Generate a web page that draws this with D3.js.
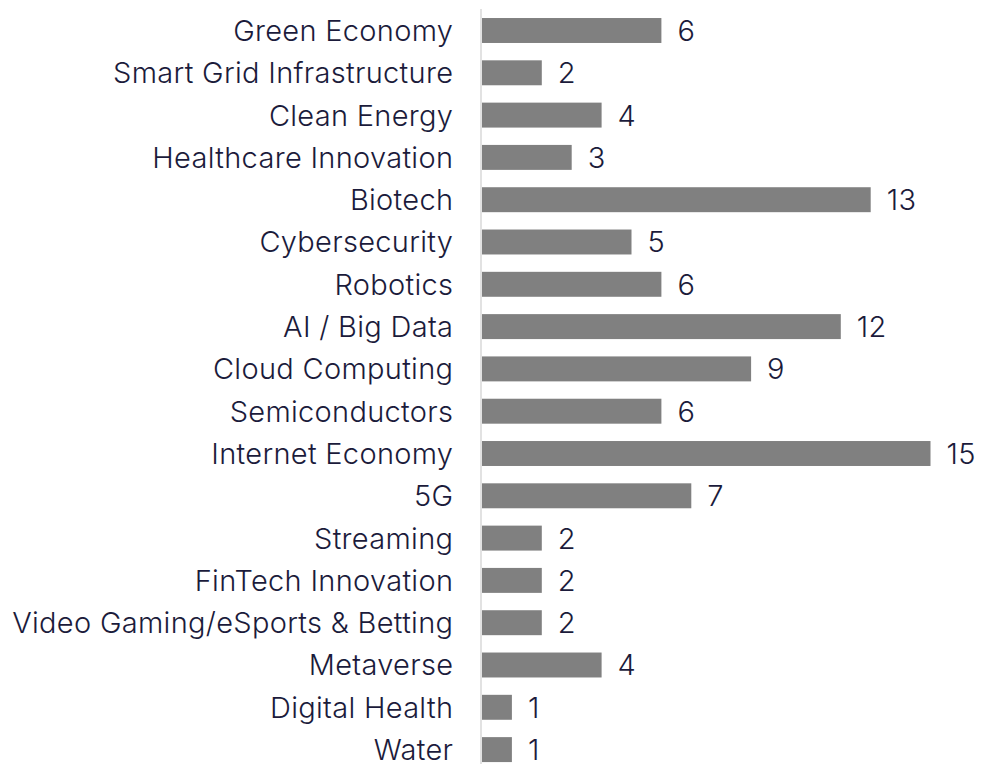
<!DOCTYPE html>
<html><head><meta charset="utf-8">
<script src="https://cdn.jsdelivr.net/npm/d3@7"></script>
<style>body{margin:0;background:#fff;}svg{display:block;}</style>
</head><body>
<svg id="chart" width="982" height="764"></svg>
<script>
const categories = ["Green Economy","Smart Grid Infrastructure","Clean Energy","Healthcare Innovation","Biotech","Cybersecurity","Robotics","AI / Big Data","Cloud Computing","Semiconductors","Internet Economy","5G","Streaming","FinTech Innovation","Video Gaming/eSports & Betting","Metaverse","Digital Health","Water"];
const values = [6,2,4,3,13,5,6,12,9,6,15,7,2,2,2,4,1,1];

const svg = d3.select("#chart");
const x = d3.scaleLinear().domain([0,15]).range([482,930.5]);
const y = d3.scaleBand().domain(categories).range([9.35,770.75]).paddingInner(0.41).paddingOuter(0.205);
const font = "Inter, 'Noto Sans', sans-serif";
const textColor = "#1b1b3b";

svg.append("line").attr("x1",481).attr("x2",481).attr("y1",9).attr("y2",764)
  .attr("stroke","#d9d9d9").attr("stroke-width",1.5);

svg.selectAll("rect.bar").data(categories).join("rect").attr("class","bar")
  .attr("x",x(0)).attr("y",d=>y(d)).attr("width",(d,i)=>x(values[i])-x(0)).attr("height",y.bandwidth())
  .attr("fill","#808080");

svg.selectAll("text.cat").data(categories).join("text").attr("class","cat")
  .attr("x",453.3).attr("y",d=>y(d)+y.bandwidth()/2).attr("dy","0.36em")
  .attr("text-anchor","end").attr("font-family",font).attr("font-size",29).attr("font-weight",300)
  .attr("letter-spacing","0.3px").attr("fill",textColor)
  .text(d=>d);

svg.selectAll("text.val").data(categories).join("text").attr("class","val")
  .attr("x",(d,i)=>x(values[i])+16).attr("y",d=>y(d)+y.bandwidth()/2).attr("dy","0.36em")
  .attr("font-family",font).attr("font-size",29).attr("font-weight",300)
  .attr("letter-spacing","0.3px").attr("fill",textColor)
  .text((d,i)=>values[i]);
</script>
</body></html>
